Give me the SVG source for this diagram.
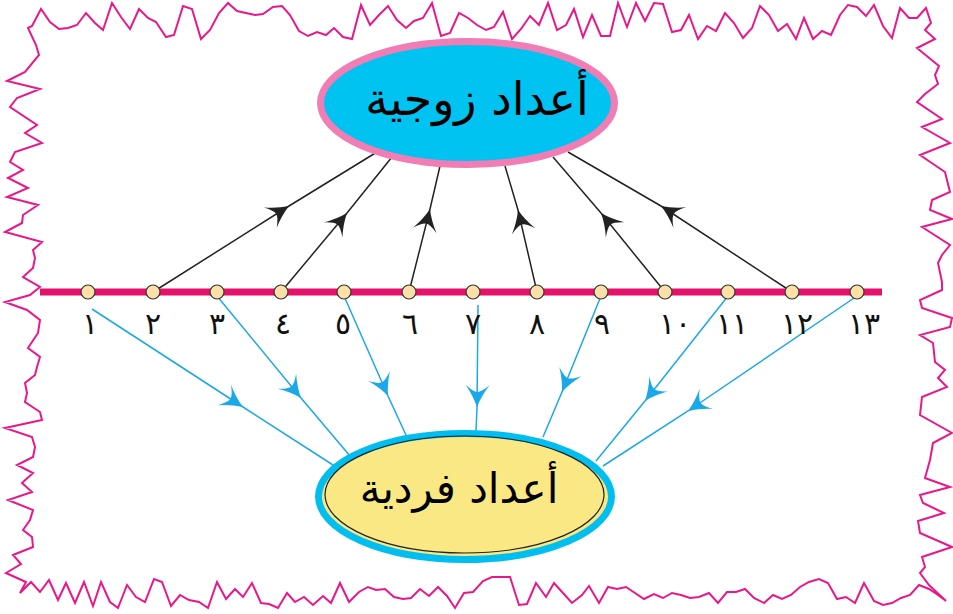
<svg xmlns="http://www.w3.org/2000/svg" width="953" height="614" viewBox="0 0 953 614">
<style>
.border{fill:none;stroke:#e8188a;stroke-width:2;stroke-linejoin:miter}
.axis{stroke:#e3126b;stroke-width:7;fill:none}
.dot{fill:#fbe0a8;stroke:#333;stroke-width:1.2}
.even{fill:none;stroke:#222;stroke-width:1.5;marker-mid:url(#ah-black)}
.odd{fill:none;stroke:#1ba8e8;stroke-width:1.5;marker-mid:url(#ah-blue)}
.num{font-family:"DejaVu Sans",sans-serif;font-size:30px;fill:#111;text-anchor:middle}
.label{font-family:"DejaVu Sans",sans-serif;fill:#000;text-anchor:middle}
</style>
<defs>
<marker id="ah-black" markerUnits="userSpaceOnUse" viewBox="-24 -14 26 28" refX="0" refY="0" markerWidth="26" markerHeight="28" orient="auto" overflow="visible">
<path d="M0,0 Q-11,-4 -22,-12 Q-15,-4 -15,0 Q-15,4 -22,12 Q-11,4 0,0 Z" fill="#222"/>
</marker>
<marker id="ah-blue" markerUnits="userSpaceOnUse" viewBox="-24 -14 26 28" refX="0" refY="0" markerWidth="26" markerHeight="28" orient="auto" overflow="visible">
<path d="M0,0 Q-11,-4 -22,-12 Q-15,-4 -15,0 Q-15,4 -22,12 Q-11,4 0,0 Z" fill="#1ba8e8"/>
</marker>
</defs>
<rect width="953" height="614" fill="#fff"/>
<polygon class="border" points="28,28 32,26 41,9 50,22 59,29 68,28 77,25 86,13 95,23 103,30 112,3 121,17 130,29 139,9 148,18 156,22 166,37 174,35 183,6 192,9 201,39 210,30 219,13 228,3 237,11 246,13 255,15 263,14 273,7 282,6 290,15 299,31 308,36 317,32 326,35 334,28 343,37 352,39 361,5 370,25 379,15 388,6 397,20 406,28 414,21 423,18 432,3 441,36 450,33 459,13 468,18 477,25 486,30 494,27 503,12 512,39 521,29 530,16 539,25 548,3 557,30 566,25 574,9 583,37 592,15 601,36 610,36 618,3 627,27 636,3 645,21 654,3 663,4 672,32 681,30 689,15 698,39 707,26 716,31 725,13 734,23 743,38 752,28 760,6 769,15 778,31 787,24 796,39 804,18 813,39 822,31 831,35 840,15 848,5 857,7 866,16 874,5 883,26 892,38 900,8 909,18 917,18 926,8 931,23 925,30 935,39 917,48 939,66 935,75 938,84 925,94 917,102 942,119 922,127 950,143 920,155 945,172 950,192 932,200 930,210 952,219 922,227 950,245 942,255 938,263 942,282 942,290 920,300 922,308 952,318 950,327 920,335 933,343 935,362 945,370 938,378 947,387 922,397 920,415 952,433 933,443 930,460 925,478 950,487 920,495 923,503 944,513 918,521 920,533 952,547 922,557 925,567 920,573 929,585 946,601 938,595 929,589 919,585 910,595 901,598 892,603 883,605 874,601 864,583 855,603 846,597 837,599 828,583 819,579 809,582 800,587 791,595 782,599 773,595 764,603 754,598 745,589 736,592 727,592 718,603 709,593 699,597 690,598 681,595 672,593 663,598 654,594 644,599 635,593 626,587 617,589 608,587 599,603 589,586 582,595 572,603 563,593 554,583 546,597 536,583 527,604 519,605 510,577 501,577 492,577 483,581 473,592 464,593 455,608 447,596 438,587 429,596 420,589 411,598 403,599 394,597 385,589 376,590 368,587 359,592 349,602 340,583 331,603 323,596 313,605 304,597 295,602 287,593 278,608 269,604 261,603 252,583 243,597 235,589 226,599 217,582 208,608 199,602 189,600 180,595 171,606 162,582 154,579 145,602 136,597 127,585 118,608 110,602 101,582 93,606 84,582 75,603 66,583 58,600 49,580 40,592 31,582 20,593 26,582 6,573 21,564 13,555 33,547 32,537 23,530 30,520 33,510 8,500 32,492 22,483 33,473 17,465 33,457 35,447 32,437 5,428 42,420 40,412 25,402 27,393 25,383 35,375 37,367 40,357 28,348 38,333 40,320 27,310 5,302 30,295 40,287 23,277 33,268 35,258 33,250 42,242 5,232 22,223 23,215 38,205 7,197 28,188 8,178 23,170 10,162 15,152 42,143 25,133 37,125 10,107 17,98 40,89 7,81 25,72 39,55 36,45"/>
<g id="connectors">
<path class="even" d="M153,292 L289,206 L377,152"/>
<path class="even" d="M281,292 L347,213 L392,157"/>
<path class="even" d="M409,292 L430,209 L440,166"/>
<path class="even" d="M537,292 L518,210 L505,166"/>
<path class="even" d="M665,292 L601,213 L553,157"/>
<path class="even" d="M792,292 L661,206 L568,152"/>
<path class="odd" d="M92,309 L243,407 L333,465"/>
<path class="odd" d="M217,296 L301,398 L350,456"/>
<path class="odd" d="M344,296 L388,396 L406,435"/>
<path class="odd" d="M478,305 L477,407 L476,432"/>
<path class="odd" d="M601,296 L562,392 L543,437"/>
<path class="odd" d="M728,296 L645,401 L596,461"/>
<path class="odd" d="M857,296 L688,411 L603,466"/>
</g>
<g id="even-numbers">
<ellipse cx="467.5" cy="103" rx="147" ry="61.5" fill="#00c3f2" stroke="#f07db4" stroke-width="7"/>
<text class="label" x="477" y="115" font-size="46">أعداد زوجية</text>
</g>
<g id="odd-numbers">
<ellipse cx="465" cy="496.5" rx="146.5" ry="63" fill="#f9e884" stroke="#00bff0" stroke-width="7"/>
<ellipse cx="464.5" cy="494.5" rx="139.5" ry="58.5" fill="none" stroke="#222" stroke-width="1.2"/>
<text class="label" x="459" y="503" font-size="42">أعداد فردية</text>
</g>
<g id="number-line">
<line class="axis" x1="40" y1="292" x2="882" y2="292"/>
<circle class="dot" cx="88" cy="292" r="7"/>
<circle class="dot" cx="153" cy="292" r="7"/>
<circle class="dot" cx="217" cy="292" r="7"/>
<circle class="dot" cx="281" cy="292" r="7"/>
<circle class="dot" cx="344" cy="292" r="7"/>
<circle class="dot" cx="409" cy="292" r="7"/>
<circle class="dot" cx="473" cy="292" r="7"/>
<circle class="dot" cx="537" cy="292" r="7"/>
<circle class="dot" cx="601" cy="292" r="7"/>
<circle class="dot" cx="665" cy="292" r="7"/>
<circle class="dot" cx="728" cy="292" r="7"/>
<circle class="dot" cx="792" cy="292" r="7"/>
<circle class="dot" cx="857" cy="292" r="7"/>
<text class="num" x="90" y="334">١</text>
<text class="num" x="153" y="334">٢</text>
<text class="num" x="217" y="334">٣</text>
<text class="num" x="283" y="334">٤</text>
<text class="num" x="343" y="334">٥</text>
<text class="num" x="410" y="334">٦</text>
<text class="num" x="473" y="334">٧</text>
<text class="num" x="537" y="334">٨</text>
<text class="num" x="602" y="334">٩</text>
<text class="num" x="675" y="334">١٠</text>
<text class="num" x="732" y="334">١١</text>
<text class="num" x="797" y="334">١٢</text>
<text class="num" x="864" y="334">١٣</text>
</g>
</svg>
